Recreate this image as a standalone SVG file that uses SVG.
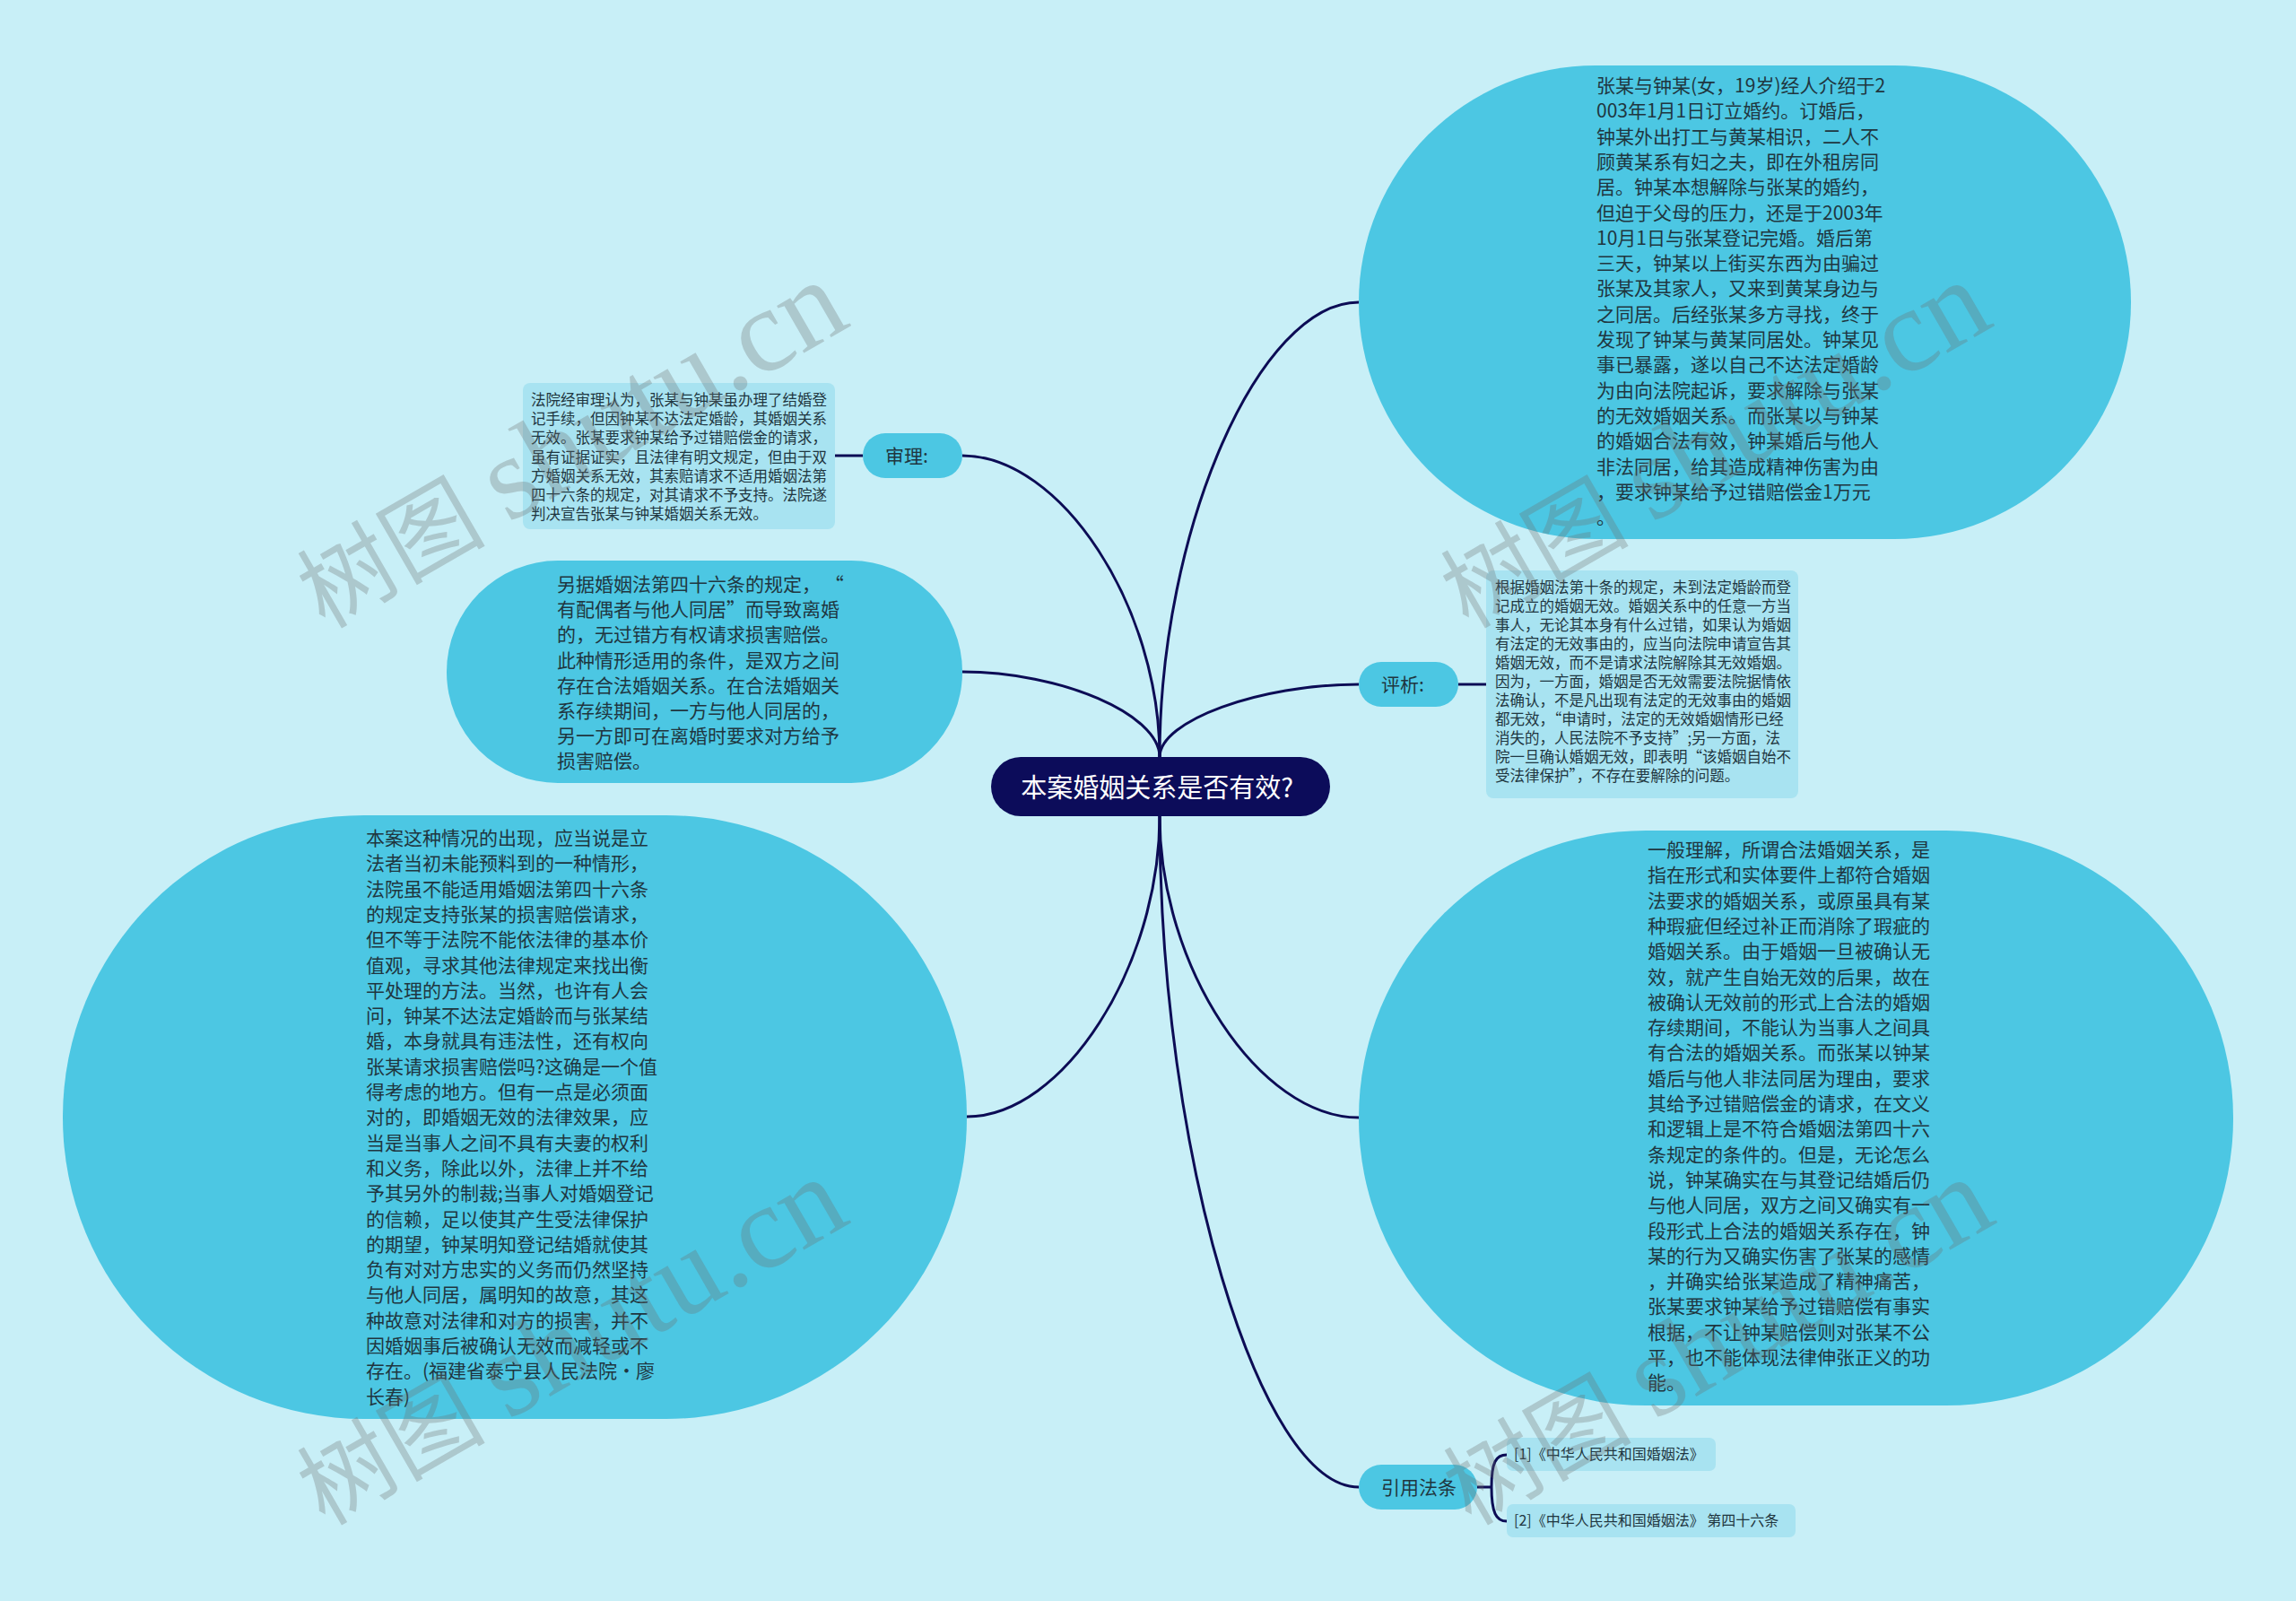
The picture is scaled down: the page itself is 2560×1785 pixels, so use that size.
<svg xmlns="http://www.w3.org/2000/svg" width="2560" height="1785" viewBox="0 0 2560 1785">
<style>
.bg{fill:#c8eff7}
.big{fill:#4cc7e3}
.pill{fill:#4cc7e3}
.box{fill:#a8e3f1}
.root{fill:#0c0c5a}
.t{font-family:"Noto Sans CJK SC","Microsoft YaHei",sans-serif;fill:#1f3640}
.t21{font-size:21px}
.t16{font-size:16.5px}
.rt{font-family:"Noto Sans CJK SC","Microsoft YaHei",sans-serif;font-size:29px;fill:#ffffff}
.conn{fill:none;stroke:#0c0c55;stroke-width:3}
.wm{font-family:"Liberation Serif","Noto Sans CJK SC",serif;font-size:105px;fill:#6e6e6e;fill-opacity:0.3}
.wl{font-size:132px}
</style>
<rect class="bg" x="0" y="0" width="2560" height="1785"/>

<g id="connectors">
<path class="conn" d="M1293 844 C1293 590.5 1404 337 1515 337"/>
<path class="conn" d="M1293 844 C1293 676 1183 508 1073 508"/>
<path class="conn" d="M1293 844 C1293 796.5 1183 749 1073 749"/>
<path class="conn" d="M1293 844 C1293 803.5 1404 763 1515 763"/>
<path class="conn" d="M1293 910 C1293 1077.5 1185.5 1245 1078 1245"/>
<path class="conn" d="M1293 910 C1293 1078 1404 1246 1515 1246"/>
<path class="conn" d="M1293 910 C1293 1284 1404 1658 1515 1658"/>
<path class="conn" d="M962 508 H931"/>
<path class="conn" d="M1626 763 H1657"/>
<path class="conn" d="M1647 1658 H1663 M1663 1658 C1663 1630 1668 1622 1680 1622 M1663 1658 C1663 1686 1668 1696 1680 1696"/>
</g>

<g id="root">
<rect class="root" x="1105" y="844" width="378" height="66" rx="33"/>
<text class="rt" x="1290" y="889" text-anchor="middle">本案婚姻关系是否有效?</text>
</g>

<g id="node-case">
<rect class="big" x="1515" y="73" width="861" height="528" rx="264"/>
<text class="t t21">
<tspan x="1780" y="103">张某与钟某(女，19岁)经人介绍于2</tspan>
<tspan x="1780" y="131.3">003年1月1日订立婚约。订婚后，</tspan>
<tspan x="1780" y="159.6">钟某外出打工与黄某相识，二人不</tspan>
<tspan x="1780" y="187.9">顾黄某系有妇之夫，即在外租房同</tspan>
<tspan x="1780" y="216.2">居。钟某本想解除与张某的婚约，</tspan>
<tspan x="1780" y="244.5">但迫于父母的压力，还是于2003年</tspan>
<tspan x="1780" y="272.8">10月1日与张某登记完婚。婚后第</tspan>
<tspan x="1780" y="301.1">三天，钟某以上街买东西为由骗过</tspan>
<tspan x="1780" y="329.4">张某及其家人，又来到黄某身边与</tspan>
<tspan x="1780" y="357.7">之同居。后经张某多方寻找，终于</tspan>
<tspan x="1780" y="386">发现了钟某与黄某同居处。钟某见</tspan>
<tspan x="1780" y="414.3">事已暴露，遂以自己不达法定婚龄</tspan>
<tspan x="1780" y="442.6">为由向法院起诉，要求解除与张某</tspan>
<tspan x="1780" y="470.9">的无效婚姻关系。而张某以与钟某</tspan>
<tspan x="1780" y="499.2">的婚姻合法有效，钟某婚后与他人</tspan>
<tspan x="1780" y="527.5">非法同居，给其造成精神伤害为由</tspan>
<tspan x="1780" y="555.8">，要求钟某给予过错赔偿金1万元</tspan>
<tspan x="1780" y="584.1">。</tspan>
</text>
</g>

<g id="node-trial">
<rect class="pill" x="962" y="483" width="111" height="50" rx="25"/>
<text class="t t21" x="987" y="516">审理:</text>
</g>

<g id="node-trial-detail">
<rect class="box" x="583" y="427" width="348" height="163" rx="8"/>
<text class="t t16">
<tspan x="592" y="452">法院经审理认为，张某与钟某虽办理了结婚登</tspan>
<tspan x="592" y="473.2">记手续，但因钟某不达法定婚龄，其婚姻关系</tspan>
<tspan x="592" y="494.4">无效。张某要求钟某给予过错赔偿金的请求，</tspan>
<tspan x="592" y="515.6">虽有证据证实，且法律有明文规定，但由于双</tspan>
<tspan x="592" y="536.8">方婚姻关系无效，其索赔请求不适用婚姻法第</tspan>
<tspan x="592" y="558">四十六条的规定，对其请求不予支持。法院遂</tspan>
<tspan x="592" y="579.2">判决宣告张某与钟某婚姻关系无效。</tspan>
</text>
</g>

<g id="node-art46">
<rect class="big" x="498" y="625" width="575" height="248" rx="124"/>
<text class="t t21">
<tspan x="621" y="659">另据婚姻法第四十六条的规定， “</tspan>
<tspan x="621" y="687.2">有配偶者与他人同居”而导致离婚</tspan>
<tspan x="621" y="715.4">的，无过错方有权请求损害赔偿。</tspan>
<tspan x="621" y="743.6">此种情形适用的条件，是双方之间</tspan>
<tspan x="621" y="771.8">存在合法婚姻关系。在合法婚姻关</tspan>
<tspan x="621" y="800">系存续期间，一方与他人同居的，</tspan>
<tspan x="621" y="828.2">另一方即可在离婚时要求对方给予</tspan>
<tspan x="621" y="856.4">损害赔偿。</tspan>
</text>
</g>

<g id="node-analysis">
<rect class="pill" x="1515" y="738" width="111" height="50" rx="25"/>
<text class="t t21" x="1540" y="771">评析:</text>
</g>

<g id="node-analysis-detail">
<rect class="box" x="1657" y="636" width="348" height="254" rx="8"/>
<text class="t t16">
<tspan x="1667" y="661">根据婚姻法第十条的规定，未到法定婚龄而登</tspan>
<tspan x="1667" y="682">记成立的婚姻无效。婚姻关系中的任意一方当</tspan>
<tspan x="1667" y="703">事人，无论其本身有什么过错，如果认为婚姻</tspan>
<tspan x="1667" y="724">有法定的无效事由的，应当向法院申请宣告其</tspan>
<tspan x="1667" y="745">婚姻无效，而不是请求法院解除其无效婚姻。</tspan>
<tspan x="1667" y="766">因为，一方面，婚姻是否无效需要法院据情依</tspan>
<tspan x="1667" y="787">法确认，不是凡出现有法定的无效事由的婚姻</tspan>
<tspan x="1667" y="808">都无效，“申请时，法定的无效婚姻情形已经</tspan>
<tspan x="1667" y="829">消失的，人民法院不予支持”;另一方面，法</tspan>
<tspan x="1667" y="850">院一旦确认婚姻无效，即表明“该婚姻自始不</tspan>
<tspan x="1667" y="871">受法律保护”，不存在要解除的问题。</tspan>
</text>
</g>

<g id="node-comment">
<rect class="big" x="70" y="909" width="1008" height="673" rx="336"/>
<text class="t t21">
<tspan x="408" y="942">本案这种情况的出现，应当说是立</tspan>
<tspan x="408" y="970.3">法者当初未能预料到的一种情形，</tspan>
<tspan x="408" y="998.6">法院虽不能适用婚姻法第四十六条</tspan>
<tspan x="408" y="1026.9">的规定支持张某的损害赔偿请求，</tspan>
<tspan x="408" y="1055.2">但不等于法院不能依法律的基本价</tspan>
<tspan x="408" y="1083.5">值观，寻求其他法律规定来找出衡</tspan>
<tspan x="408" y="1111.8">平处理的方法。当然，也许有人会</tspan>
<tspan x="408" y="1140.1">问，钟某不达法定婚龄而与张某结</tspan>
<tspan x="408" y="1168.4">婚，本身就具有违法性，还有权向</tspan>
<tspan x="408" y="1196.7">张某请求损害赔偿吗?这确是一个值</tspan>
<tspan x="408" y="1225">得考虑的地方。但有一点是必须面</tspan>
<tspan x="408" y="1253.3">对的，即婚姻无效的法律效果，应</tspan>
<tspan x="408" y="1281.6">当是当事人之间不具有夫妻的权利</tspan>
<tspan x="408" y="1309.9">和义务，除此以外，法律上并不给</tspan>
<tspan x="408" y="1338.2">予其另外的制裁;当事人对婚姻登记</tspan>
<tspan x="408" y="1366.5">的信赖，足以使其产生受法律保护</tspan>
<tspan x="408" y="1394.8">的期望，钟某明知登记结婚就使其</tspan>
<tspan x="408" y="1423.1">负有对对方忠实的义务而仍然坚持</tspan>
<tspan x="408" y="1451.4">与他人同居，属明知的故意，其这</tspan>
<tspan x="408" y="1479.7">种故意对法律和对方的损害，并不</tspan>
<tspan x="408" y="1508">因婚姻事后被确认无效而减轻或不</tspan>
<tspan x="408" y="1536.3">存在。(福建省泰宁县人民法院·廖</tspan>
<tspan x="408" y="1564.6">长春)</tspan>
</text>
</g>

<g id="node-understanding">
<rect class="big" x="1515" y="926" width="975" height="641" rx="320"/>
<text class="t t21">
<tspan x="1837" y="955">一般理解，所谓合法婚姻关系，是</tspan>
<tspan x="1837" y="983.3">指在形式和实体要件上都符合婚姻</tspan>
<tspan x="1837" y="1011.6">法要求的婚姻关系，或原虽具有某</tspan>
<tspan x="1837" y="1039.9">种瑕疵但经过补正而消除了瑕疵的</tspan>
<tspan x="1837" y="1068.2">婚姻关系。由于婚姻一旦被确认无</tspan>
<tspan x="1837" y="1096.5">效，就产生自始无效的后果，故在</tspan>
<tspan x="1837" y="1124.8">被确认无效前的形式上合法的婚姻</tspan>
<tspan x="1837" y="1153.1">存续期间，不能认为当事人之间具</tspan>
<tspan x="1837" y="1181.4">有合法的婚姻关系。而张某以钟某</tspan>
<tspan x="1837" y="1209.7">婚后与他人非法同居为理由，要求</tspan>
<tspan x="1837" y="1238">其给予过错赔偿金的请求，在文义</tspan>
<tspan x="1837" y="1266.3">和逻辑上是不符合婚姻法第四十六</tspan>
<tspan x="1837" y="1294.6">条规定的条件的。但是，无论怎么</tspan>
<tspan x="1837" y="1322.9">说，钟某确实在与其登记结婚后仍</tspan>
<tspan x="1837" y="1351.2">与他人同居，双方之间又确实有一</tspan>
<tspan x="1837" y="1379.5">段形式上合法的婚姻关系存在，钟</tspan>
<tspan x="1837" y="1407.8">某的行为又确实伤害了张某的感情</tspan>
<tspan x="1837" y="1436.1">，并确实给张某造成了精神痛苦，</tspan>
<tspan x="1837" y="1464.4">张某要求钟某给予过错赔偿有事实</tspan>
<tspan x="1837" y="1492.7">根据，不让钟某赔偿则对张某不公</tspan>
<tspan x="1837" y="1521">平，也不能体现法律伸张正义的功</tspan>
<tspan x="1837" y="1549.3">能。</tspan>
</text>
</g>

<g id="node-law">
<rect class="pill" x="1515" y="1633" width="132" height="50" rx="25"/>
<text class="t t21" x="1540" y="1666">引用法条</text>
</g>

<g id="node-law-1">
<rect class="box" x="1680" y="1603" width="233" height="37" rx="7"/>
<text class="t" style="font-size:16px" x="1688" y="1627">[1]《中华人民共和国婚姻法》</text>
</g>

<g id="node-law-2">
<rect class="box" x="1680" y="1677" width="322" height="37" rx="7"/>
<text class="t" style="font-size:16px" x="1688" y="1701">[2]《中华人民共和国婚姻法》 第四十六条</text>
</g>

<g id="watermarks">
<text class="wm" transform="translate(362 702) rotate(-30)">树图 <tspan class="wl">shutu.cn</tspan></text>
<text class="wm" transform="translate(362 1702) rotate(-30)">树图 <tspan class="wl">shutu.cn</tspan></text>
<text class="wm" transform="translate(1637 702) rotate(-30)">树图 <tspan class="wl">shutu.cn</tspan></text>
<text class="wm" transform="translate(1640 1702) rotate(-30)">树图 <tspan class="wl">shutu.cn</tspan></text>
</g>
</svg>
